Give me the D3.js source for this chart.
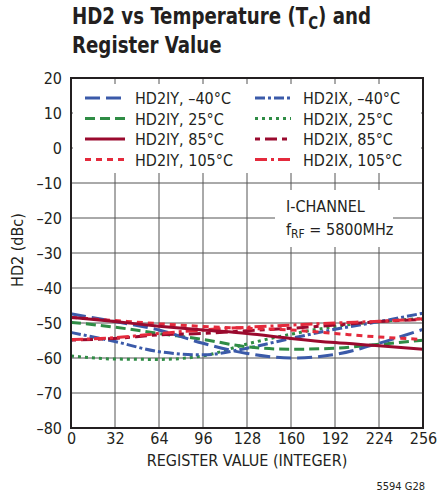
<!DOCTYPE html>
<html>
<head>
<meta charset="utf-8">
<script src="https://cdn.jsdelivr.net/npm/d3@7"></script>
<style>
  body { margin: 0; background: #fff; }
  svg text { font-family: "Liberation Sans Narrow", "DejaVu Sans Condensed", sans-serif; fill: #231f20; }
</style>
</head>
<body>
<svg id="chart" width="437" height="497"></svg>
<script>
// register value sample points
const registerValues = [0, 32, 64, 96, 128, 160, 192, 224, 256]

// HD2 in dBc
const hd2iyM40 = [-47.4, -49.6, -52.0, -55.8, -58.7, -60.0, -59.0, -55.8, -51.8]
const hd2ixM40 = [-52.7, -55.3, -58.2, -59.1, -57.2, -54.4, -51.8, -49.6, -47.2]
const hd2iy25  = [-49.8, -51.2, -53.0, -54.7, -56.8, -57.5, -57.2, -56.1, -54.9]
const hd2ix25  = [-59.4, -60.3, -60.4, -59.4, -56.0, -53.2, -51.0, -49.6, -48.7]
const hd2iy85  = [-48.4, -49.6, -50.9, -52.0, -53.0, -54.4, -55.6, -56.5, -57.5]
const hd2ix85  = [-54.9, -54.4, -53.4, -53.0, -52.2, -51.5, -50.6, -49.6, -49.0]
const hd2iy105 = [-48.4, -49.3, -50.2, -51.0, -51.5, -52.0, -53.0, -54.0, -54.7]
const hd2ix105 = [-54.7, -54.2, -53.0, -52.0, -51.2, -50.6, -50.0, -49.5, -48.8]

const xTicks = [0, 32, 64, 96, 128, 160, 192, 224, 256]
const yTicks = [20, 10, 0, -10, -20, -30, -40, -50, -60, -70, -80]

const BLUE = '#3b5aa9', GREEN = '#2f8c45', DKRED = '#9a0a2e', RED = '#e42a3c'

const series = [
  { name: 'HD2IY, \u201340\u00b0C', values: hd2iyM40, color: BLUE,  dash: '15,6',  col: 0 },
  { name: 'HD2IY, 25\u00b0C',       values: hd2iy25,  color: GREEN, dash: '10,5',  col: 0 },
  { name: 'HD2IY, 85\u00b0C',       values: hd2iy85,  color: DKRED, dash: null,    col: 0 },
  { name: 'HD2IY, 105\u00b0C',      values: hd2iy105, color: RED,   dash: '6,5',   col: 0 },
  { name: 'HD2IX, \u201340\u00b0C', values: hd2ixM40, color: BLUE,  dash: '10,3,3,3', col: 1 },
  { name: 'HD2IX, 25\u00b0C',       values: hd2ix25,  color: GREEN, dash: '3,4',   col: 1 },
  { name: 'HD2IX, 85\u00b0C',       values: hd2ix85,  color: DKRED, dash: '5,5,12,5', col: 1 },
  { name: 'HD2IX, 105\u00b0C',      values: hd2ix105, color: RED,   dash: '12,4,3,4', col: 1 }
]

const svg = d3.select('#chart')
const m = { left: 71, right: 423, top: 78, bottom: 428 }

const x = d3.scaleLinear().domain([0, 256]).range([m.left, m.right])
const y = d3.scaleLinear().domain([-80, 20]).range([m.bottom, m.top])

// title, squeezed horizontally to match the condensed face of the original
const title = svg.append('g').attr('transform', 'translate(72,0) scale(0.88,1)')
  .attr('font-weight', 'bold').attr('font-size', 23)
const t1 = title.append('text').attr('x', 0).attr('y', 24)
t1.append('tspan').text('HD2 vs Temperature (T')
t1.append('tspan').attr('font-size', 17).attr('dy', 5).text('C')
t1.append('tspan').attr('dy', -5).text(') and')
title.append('text').attr('x', 0).attr('y', 53).text('Register Value')

// grid
const grid = svg.append('g').attr('stroke', '#555').attr('stroke-width', 1)
grid.selectAll('line.v').data(xTicks.slice(1, -1)).join('line')
  .attr('class', 'v')
  .attr('x1', d => x(d)).attr('x2', d => x(d)).attr('y1', m.top).attr('y2', m.bottom)
grid.selectAll('line.h').data(yTicks.slice(1, -1)).join('line')
  .attr('class', 'h')
  .attr('x1', m.left).attr('x2', m.right).attr('y1', d => y(d)).attr('y2', d => y(d))

// curves
const line = d3.line().x((d, i) => x(registerValues[i])).y(d => y(d)).curve(d3.curveMonotoneX)
const drawOrder = [5, 4, 1, 0, 6, 7, 3, 2]
svg.append('g').selectAll('path').data(drawOrder.map(i => series[i])).join('path')
  .attr('d', d => line(d.values))
  .attr('fill', 'none')
  .attr('stroke', d => d.color)
  .attr('stroke-width', 3)
  .attr('stroke-dasharray', d => d.dash)

// legend box
svg.append('rect').attr('x', 73).attr('y', 84).attr('width', 348).attr('height', 89).attr('fill', '#fff')
const rowY = [98, 118.5, 139, 159.5]
const leg = svg.append('g')
series.forEach((s, i) => {
  const row = i % 4
  const lx = s.col === 0 ? 85 : 255
  const lw = s.col === 0 ? 40 : 36
  leg.append('line').attr('x1', lx).attr('x2', lx + lw).attr('y1', rowY[row]).attr('y2', rowY[row])
    .attr('stroke', s.color).attr('stroke-width', 3).attr('stroke-dasharray', s.dash)
  leg.append('text').attr('x', s.col === 0 ? 135 : 303).attr('y', rowY[row] + 6)
    .attr('font-size', 16).text(s.name)
})

// annotation
svg.append('rect').attr('x', 275).attr('y', 190).attr('width', 118).attr('height', 57).attr('fill', '#fff')
svg.append('text').attr('x', 286).attr('y', 212).attr('font-size', 16).text('I-CHANNEL')
const f = svg.append('text').attr('x', 286).attr('y', 235).attr('font-size', 16)
f.append('tspan').text('f')
f.append('tspan').attr('font-size', 12).attr('dy', 3).text('RF')
f.append('tspan').attr('dy', -3).text(' = 5800MHz')

// frame
svg.append('rect').attr('x', m.left).attr('y', m.top).attr('width', m.right - m.left).attr('height', m.bottom - m.top)
  .attr('fill', 'none').attr('stroke', '#231f20').attr('stroke-width', 2)

// axes
const xAxis = svg.append('g').attr('transform', `translate(0,${m.bottom})`)
  .call(d3.axisBottom(x).tickValues(xTicks).tickSize(0).tickPadding(5))
const yAxis = svg.append('g').attr('transform', `translate(${m.left},0)`)
  .call(d3.axisLeft(y).tickValues(yTicks).tickSize(0).tickPadding(9)
    .tickFormat(d => d < 0 ? '\u2013' + Math.abs(d) : d))
;[xAxis, yAxis].forEach(a => {
  a.select('.domain').remove()
  a.selectAll('text').attr('font-size', 16).attr('font-family', null).attr('fill', '#231f20')
})

svg.append('text').attr('x', (m.left + m.right) / 2).attr('y', 466).attr('text-anchor', 'middle')
  .attr('font-size', 16).text('REGISTER VALUE (INTEGER)')
svg.append('text').attr('transform', 'translate(23,250) rotate(-90)').attr('text-anchor', 'middle')
  .attr('font-size', 16).text('HD2 (dBc)')
svg.append('text').attr('x', 425).attr('y', 490).attr('text-anchor', 'end')
  .attr('font-size', 11).text('5594 G28')
</script>
</body>
</html>
